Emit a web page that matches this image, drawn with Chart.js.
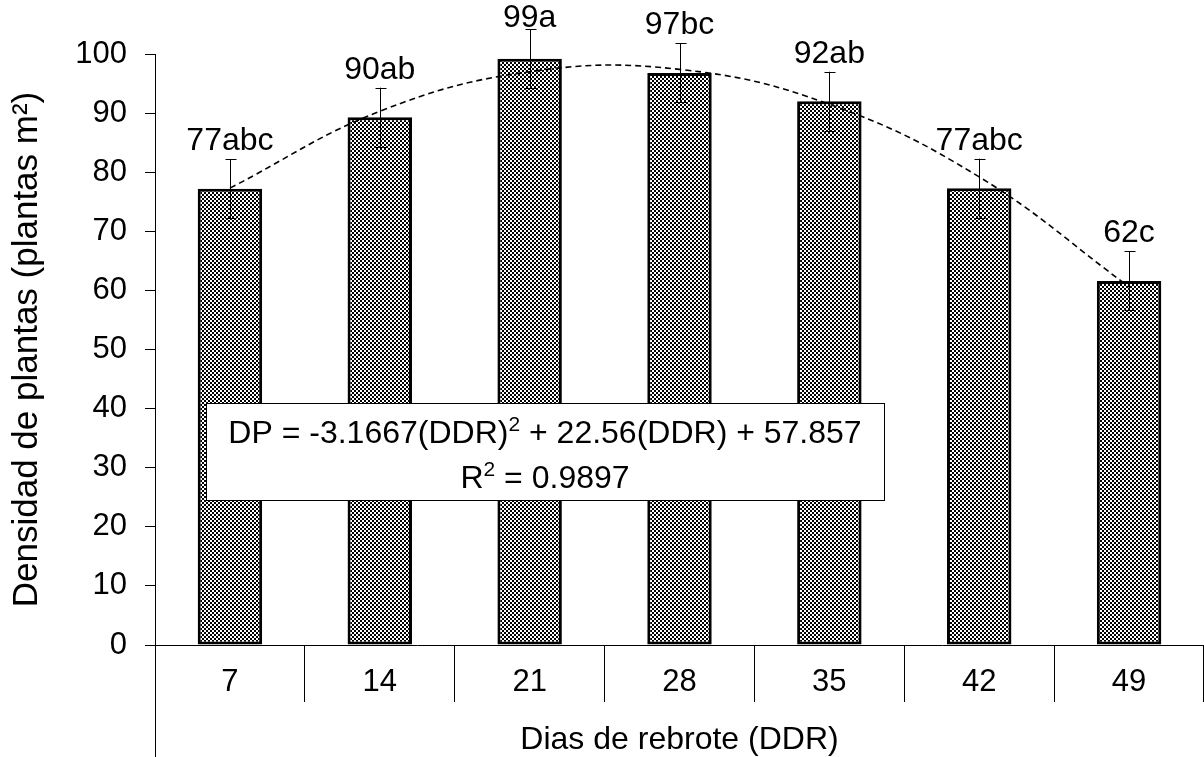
<!DOCTYPE html>
<html>
<head>
<meta charset="utf-8">
<title>Densidad de plantas</title>
<script src="https://cdn.jsdelivr.net/npm/chart.js@4.4.1/dist/chart.umd.min.js"></script>
<style>
    html, body { margin: 0; padding: 0; background: #fff; }
    #wrap { width: 1204px; height: 757px; }
</style>
</head>
<body>
<div id="wrap"><canvas id="densityChart" width="1204" height="757"></canvas></div>
<script>
// Data
const days = ['7', '14', '21', '28', '35', '42', '49'];
const density = [77.2, 89.3, 99.2, 96.8, 92.0, 77.3, 61.6];
const errors = [5, 5, 5, 5, 5, 5, 5];
const letters = ['77abc', '90ab', '99a', '97bc', '92ab', '77abc', '62c'];
const trend = [77.3, 90.3, 97.0, 97.4, 91.5, 79.2, 60.6];
const yTicks = [0, 10, 20, 30, 40, 50, 60, 70, 80, 90, 100];

const FONT = '"Liberation Sans", Arial, sans-serif';

// checkered fill like the Excel pattern
function makePattern() {
    const c = document.createElement('canvas');
    c.width = 4;
    c.height = 4;
    const p = c.getContext('2d');
    p.fillStyle = '#fff';
    p.fillRect(0, 0, 4, 4);
    p.fillStyle = '#000';
    p.fillRect(0, 0, 2, 2);
    p.fillRect(2, 2, 2, 2);
    return p.createPattern(c, 'repeat');
}

// error bars, letters, equation box and the long left divider
const extrasPlugin = {
    id: 'extras',
    afterDatasetsDraw(chart) {
        const ctx = chart.ctx;
        const x = chart.scales.x;
        const y = chart.scales.y;
        const meta = chart.getDatasetMeta(0);

        ctx.save();
        ctx.strokeStyle = '#000';
        ctx.lineWidth = 1;
        meta.data.forEach((bar, i) => {
            const cx = Math.round(bar.x) + 0.5;
            const top = y.getPixelForValue(density[i] + errors[i]);
            const bot = y.getPixelForValue(density[i] - errors[i]);
            ctx.beginPath();
            ctx.moveTo(cx, top);
            ctx.lineTo(cx, bot);
            ctx.moveTo(cx - 5, Math.round(top) + 0.5);
            ctx.lineTo(cx + 6, Math.round(top) + 0.5);
            ctx.moveTo(cx - 5, Math.round(bot) + 0.5);
            ctx.lineTo(cx + 6, Math.round(bot) + 0.5);
            ctx.stroke();

            // letters sit just above the whisker, kept inside the canvas
            ctx.fillStyle = '#000';
            ctx.font = '32px ' + FONT;
            ctx.textAlign = 'center';
            ctx.textBaseline = 'alphabetic';
            ctx.fillText(letters[i], bar.x, Math.max(top - 9, 27));
        });

        // left divider runs to the bottom of the picture
        ctx.beginPath();
        ctx.moveTo(x.left + 0.5, x.top);
        ctx.lineTo(x.left + 0.5, chart.height);
        ctx.stroke();

        // equation box
        const bx = 206, by = 403, bw = 678, bh = 97;
        ctx.fillStyle = '#fff';
        ctx.fillRect(bx, by, bw, bh);
        ctx.strokeRect(bx + 0.5, by + 0.5, bw, bh);

        const cx = bx + bw / 2;
        const part1 = 'DP = -3.1667(DDR)';
        const sup = '2';
        const part2 = ' + 22.56(DDR) + 57.857';
        ctx.fillStyle = '#000';
        ctx.textBaseline = 'alphabetic';
        ctx.textAlign = 'left';
        ctx.font = '32px ' + FONT;
        const w1 = ctx.measureText(part1).width;
        const w3 = ctx.measureText(part2).width;
        ctx.font = '21px ' + FONT;
        const w2 = ctx.measureText(sup).width;
        let sx = cx - (w1 + w2 + w3) / 2;
        ctx.font = '32px ' + FONT;
        ctx.fillText(part1, sx, 443);
        ctx.font = '21px ' + FONT;
        ctx.fillText(sup, sx + w1, 431);
        ctx.font = '32px ' + FONT;
        ctx.fillText(part2, sx + w1 + w2, 443);

        const r1 = 'R', r3 = ' = 0.9897';
        const rw1 = ctx.measureText(r1).width;
        const rw3 = ctx.measureText(r3).width;
        ctx.font = '21px ' + FONT;
        const rw2 = ctx.measureText(sup).width;
        sx = cx - (rw1 + rw2 + rw3) / 2;
        ctx.font = '32px ' + FONT;
        ctx.fillText(r1, sx, 488);
        ctx.font = '21px ' + FONT;
        ctx.fillText(sup, sx + rw1, 476);
        ctx.font = '32px ' + FONT;
        ctx.fillText(r3, sx + rw1 + rw2, 488);
        ctx.restore();
    }
};

function initChart() {
    const canvas = document.getElementById('densityChart');
    new Chart(canvas, {
        data: {
            labels: days,
            datasets: [
                {
                    type: 'line',
                    label: 'Tendencia',
                    data: trend,
                    borderColor: '#000',
                    borderWidth: 1.6,
                    borderDash: [6, 4],
                    pointRadius: 0,
                    tension: 0.4,
                    fill: false,
                    order: 0
                },
                {
                    type: 'bar',
                    label: 'Densidad',
                    data: density,
                    backgroundColor: makePattern(),
                    borderColor: '#000',
                    borderWidth: 3,
                    borderSkipped: false,
                    barPercentage: 0.43,
                    categoryPercentage: 1,
                    order: 1
                }
            ]
        },
        options: {
            responsive: false,
            animation: false,
            layout: { padding: { top: 54, right: 0, bottom: 0, left: 0 } },
            plugins: {
                legend: { display: false },
                tooltip: { enabled: false }
            },
            scales: {
                x: {
                    offset: true,
                    grid: {
                        offset: true,
                        drawOnChartArea: false,
                        color: '#000',
                        tickLength: 57
                    },
                    border: { color: '#000', width: 1 },
                    ticks: {
                        color: '#000',
                        font: { family: FONT, size: 31 },
                        padding: -38,
                        maxRotation: 0,
                        autoSkip: false
                    },
                    title: {
                        display: true,
                        text: 'Dias de rebrote (DDR)',
                        color: '#000',
                        font: { family: FONT, size: 32 },
                        padding: { top: 0, bottom: -2 }
                    },
                    afterFit: s => { s.height = 112; }
                },
                y: {
                    min: 0,
                    max: 100,
                    afterBuildTicks: s => { s.ticks = yTicks.map(v => ({ value: v })); },
                    grid: {
                        drawOnChartArea: false,
                        color: '#000',
                        tickLength: 10
                    },
                    border: { color: '#000', width: 1 },
                    ticks: {
                        color: '#000',
                        font: { family: FONT, size: 31 },
                        padding: 18
                    },
                    title: {
                        display: true,
                        text: 'Densidad de plantas (plantas m²)',
                        color: '#000',
                        font: { family: FONT, size: 35 },
                        padding: { top: 6, bottom: 0 }
                    },
                    afterFit: s => { s.width = 155; }
                }
            }
        },
        plugins: [extrasPlugin]
    });
}

document.addEventListener('DOMContentLoaded', initChart);
</script>
</body>
</html>
